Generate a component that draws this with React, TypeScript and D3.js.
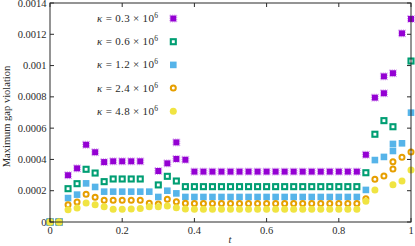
import React from 'react';
import * as d3 from 'd3';

// sample times (t) and violations in units of 1e-4; null = no point drawn
const times = [
  0, 0.025, 0.05, 0.075, 0.1, 0.125, 0.15, 0.175, 0.2, 0.225, 0.25, 0.275, 0.3, 0.325,
  0.35, 0.375, 0.4, 0.425, 0.45, 0.475, 0.5, 0.525, 0.55, 0.575, 0.6, 0.625, 0.65, 0.675,
  0.7, 0.725, 0.75, 0.775, 0.8, 0.825, 0.85, 0.875, 0.9, 0.925, 0.95, 0.975, 1,
];

const kappa03 = [
  0, 0, 2.99, 3.43, 4.94, 4.46, 3.83, 3.88, 3.88, 3.88, 3.88, null, 3.26, 3.75,
  4.03, 3.98, 3.22, 3.22, 3.22, 3.22, 3.22, 3.22, 3.22, 3.22, 3.22, 3.22, 3.22, 3.22,
  3.22, 3.22, 3.22, 3.22, 3.22, 3.22, 3.22, 4.3, 7.95, 9.31, 9.51, 12.06, 12.98,
];
const kappa06 = [
  0, 0, 2.13, 2.45, 3.37, 3.13, 2.58, 2.75, 2.75, 2.75, 2.75, null, 2.37, 2.92,
  2.62, 2.26, 2.26, 2.26, 2.26, 2.26, 2.26, 2.26, 2.26, 2.26, 2.26, 2.26, 2.26, 2.26,
  2.26, 2.26, 2.26, 2.26, 2.26, 2.26, 2.26, 3.15, 5.61, 6.48, 6.09, null, 10.29,
];
const kappa12 = [
  0, 0, 1.53, 1.75, 2.47, 2.24, 1.94, 1.94, 1.94, 1.94, 1.94, 1.94, 1.6, 2.0,
  1.83, 1.6, 1.6, 1.6, 1.6, 1.6, 1.6, 1.6, 1.6, 1.6, 1.6, 1.6, 1.6, 1.6,
  1.6, 1.6, 1.6, 1.6, 1.6, 1.6, 1.6, 2.05, 3.96, 4.16, 4.54, 5.03, 6.99,
];
const kappa24 = [
  0, 0, 1.11, 1.28, 1.77, 1.58, 1.39, 1.39, 1.39, 1.39, 1.39, 1.2, 1.15, 1.45,
  1.3, 1.2, 1.18, 1.18, 1.18, 1.18, 1.18, 1.18, 1.18, 1.18, 1.18, 1.18, 1.18, 1.18,
  1.18, 1.18, 1.18, 1.18, 1.18, 1.18, 1.18, 1.49, 2.73, 2.94, 3.39, 4.14, 4.47,
];
const kappa48 = [
  0, 0, 0.79, 0.89, 1.21, 1.11, 0.98, 0.81, 0.81, 0.83, 0.86, 0.98, 0.98, 1.02,
  0.91, 0.83, 0.82, 0.82, 0.82, 0.82, 0.82, 0.82, 0.82, 0.82, 0.82, 0.82, 0.82, 0.82,
  0.82, 0.82, 0.82, 0.82, 0.82, 0.82, 0.82, 1.32, 2.05, null, 2.38, 2.62, 3.32,
];

// second points recorded at the same time
const kappa03Extra = [[0.35, 5.09], [0.925, 8.23]];
const kappa12Extra = [[0.95, 4.99]];
const kappa24Extra = [[0.95, 3.85]];

const legendLabels = ['0.3', '0.6', '1.2', '2.4', '4.8'];
const xTicks = [0, 0.2, 0.4, 0.6, 0.8, 1];
const yTicks = [0, 0.0002, 0.0004, 0.0006, 0.0008, 0.001, 0.0012, 0.0014];

const UNIT = 1e-4;
const W = 415;
const H = 246;
const font = '"Liberation Serif", "DejaVu Serif", serif';
const ink = '#2a2a2a';

const series = [
  { values: kappa03, extra: kappa03Extra, color: '#9400d3', kind: 'cross' },
  { values: kappa06, extra: [], color: '#009e73', kind: 'openSquare' },
  { values: kappa12, extra: kappa12Extra, color: '#56b4e9', kind: 'square' },
  { values: kappa24, extra: kappa24Extra, color: '#e69f00', kind: 'openCircle' },
  { values: kappa48, extra: [], color: '#f0e442', kind: 'circle' },
];

function Marker({ kind, color, cx, cy }: { kind: string; color: string; cx: number; cy: number }) {
  switch (kind) {
    case 'cross':
      return (
        <g>
          <rect x={cx - 3} y={cy - 3} width={6} height={6} fill={color} />
          <rect x={cx - 3.5} y={cy - 3.5} width={7} height={7} fill="none" stroke={color} strokeOpacity={0.35} strokeWidth={1} strokeDasharray="1.2 1" />
        </g>
      );
    case 'openSquare':
      return (
        <g>
          <rect x={cx - 2.5} y={cy - 2.5} width={5} height={5} fill="none" stroke={color} strokeWidth={2.1} />
          <rect x={cx - 0.6} y={cy - 0.6} width={1.2} height={1.2} fill="#fff" />
        </g>
      );
    case 'square':
      return <rect x={cx - 3.3} y={cy - 3.3} width={6.6} height={6.6} fill={color} />;
    case 'openCircle':
      return <circle cx={cx} cy={cy} r={2.5} fill="#fff" stroke={color} strokeWidth={2} />;
    default:
      return <circle cx={cx} cy={cy} r={3.5} fill={color} />;
  }
}

export default function App() {
  const x = d3.scaleLinear().domain([0, 1]).range([50, 411]);
  const y = d3.scaleLinear().domain([0, 0.0014]).range([222, 3]);
  const [x0, x1] = x.range();
  const [y0, y1] = y.range();
  const tickLen = 4;
  const fmt = (v: number) => String(+v.toFixed(4));

  return (
    <svg width={W} height={H} style={{ position: 'absolute', left: 0, top: 0, fontFamily: font }}>
      <rect width={W} height={H} fill="#fff" />

      {/* markers */}
      {series.map((s, si) => (
        <g key={si}>
          {s.values.map((v, i) =>
            v == null ? null : (
              <Marker key={i} kind={s.kind} color={s.color} cx={x(times[i])} cy={y(v * UNIT)} />
            )
          )}
          {s.extra.map(([t, v], i) => (
            <Marker key={'e' + i} kind={s.kind} color={s.color} cx={x(t)} cy={y(v * UNIT)} />
          ))}
        </g>
      ))}

      {/* frame and ticks */}
      <rect x={x0} y={y1} width={x1 - x0} height={y0 - y1} fill="none" stroke={ink} strokeWidth={1} />
      {xTicks.map(t => (
        <g key={'x' + t}>
          <line x1={x(t)} x2={x(t)} y1={y0} y2={y0 - tickLen} stroke={ink} />
          <line x1={x(t)} x2={x(t)} y1={y1} y2={y1 + tickLen} stroke={ink} />
          <text x={x(t)} y={234} textAnchor="middle" fontSize={10.5} fill={ink}>
            {fmt(t)}
          </text>
        </g>
      ))}
      {yTicks.map(v => (
        <g key={'y' + v}>
          <line x1={x0} x2={x0 + tickLen} y1={y(v)} y2={y(v)} stroke={ink} />
          <line x1={x1} x2={x1 - tickLen} y1={y(v)} y2={y(v)} stroke={ink} />
          <text x={x0 - 3.5} y={y(v) + 3.5} textAnchor="end" fontSize={10.5} fill={ink}>
            {fmt(v)}
          </text>
        </g>
      ))}

      {/* axis labels */}
      <text x={230} y={243} textAnchor="middle" fontSize={10.5} fontStyle="italic" fill={ink}>
        t
      </text>
      <text transform={`translate(10,${(y0 + y1) / 2 + 4}) rotate(-90)`} textAnchor="middle" fontSize={10.5} fill={ink}>
        Maximum gap violation
      </text>

      {/* legend */}
      {series.map((s, i) => {
        const ly = 18.5 + i * 23.2;
        return (
          <g key={'l' + i}>
            <text x={97} y={ly + 3.5} fontSize={11} fill={ink} textLength={61} lengthAdjust="spacing">
              <tspan fontStyle="italic">κ</tspan> = {legendLabels[i]} × 10
              <tspan dy={-4} fontSize={7.5}>6</tspan>
            </text>
            <Marker kind={s.kind} color={s.color} cx={173.3} cy={ly} />
          </g>
        );
      })}
    </svg>
  );
}
